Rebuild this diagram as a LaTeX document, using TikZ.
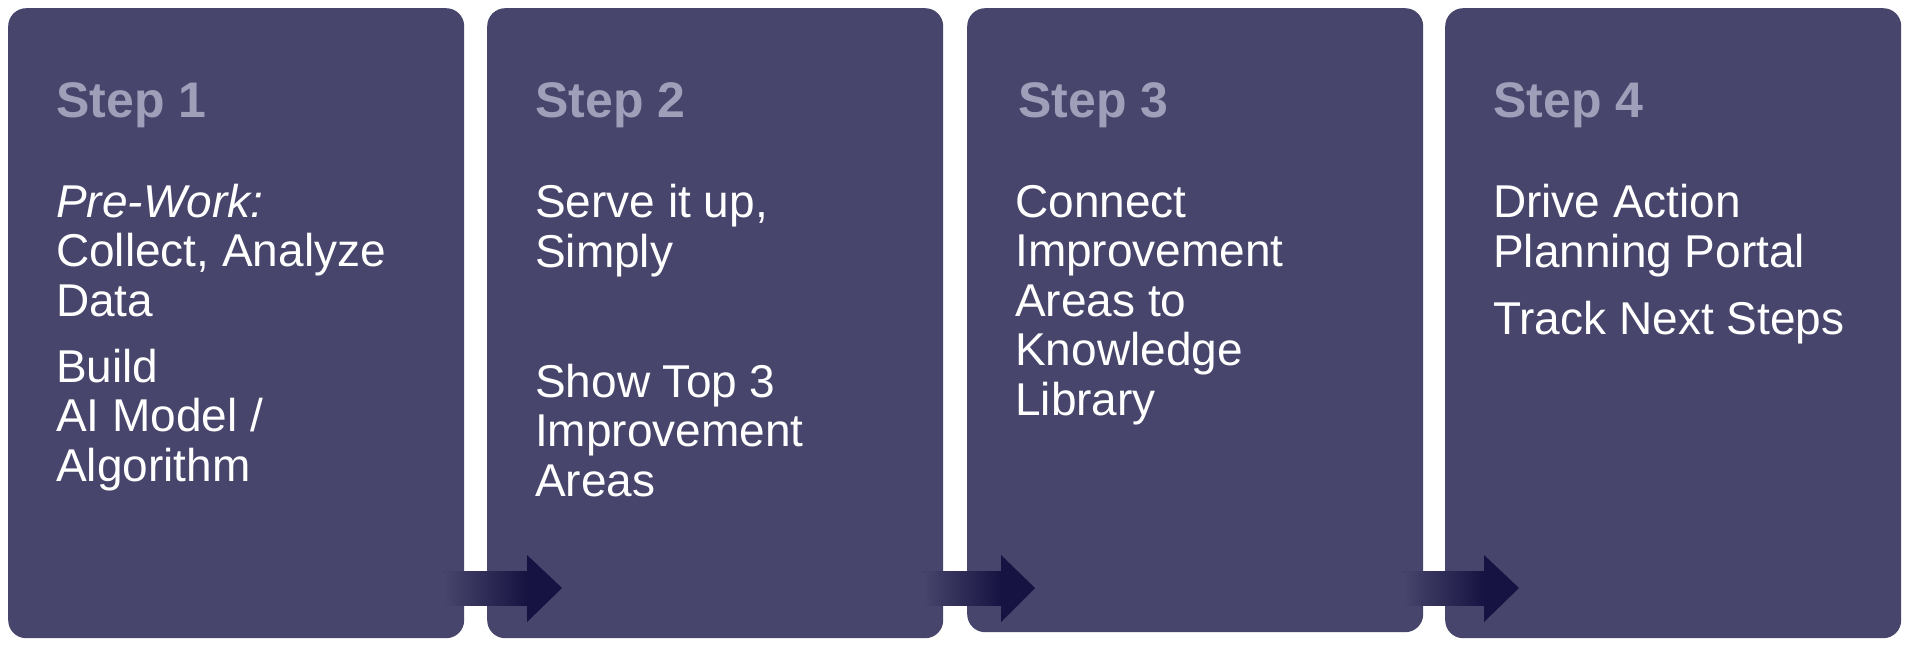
\documentclass[tikz,border=0pt]{standalone}
\usepackage{fontspec}
\setmainfont{Liberation Sans}
\usepackage{tikz}
\usetikzlibrary{calc}
\definecolor{boxfill}{RGB}{71,69,107}
\definecolor{steplabel}{RGB}{160,159,186}
\definecolor{arrowdark}{RGB}{22,19,66}

\begin{document}
\begin{tikzpicture}[x=1pt, y=-1pt,
    stepbox/.style={rectangle, rounded corners=18pt, fill=boxfill, minimum width=456pt, minimum height=630pt, anchor=north west, inner sep=0pt},
    steptitle/.style={anchor=base west, inner sep=0pt, text=steplabel, font=\fontsize{50}{52}\selectfont\bfseries},
    stepbody/.style={anchor=base west, inner sep=0pt, text=white, align=left, font=\fontsize{46}{49.5}\selectfont},
    shaft/.style={left color=boxfill, right color=arrowdark},
    head/.style={fill=arrowdark}
]
\useasboundingbox (0,0) rectangle (1914,650);

% Boxes
\node[stepbox] (b1) at (8, 8) {};
\node[stepbox] (b2) at (487, 8) {};
\node[stepbox, minimum height=624pt] (b3) at (967, 8) {};
\node[stepbox] (b4) at (1445, 8) {};

% Step titles
\node[steptitle] (s1) at (56, 118) {Step 1};
\node[steptitle] (s2) at (535, 118) {Step 2};
\node[steptitle] (s3) at (1018, 118) {Step 3};
\node[steptitle] (s4) at (1493, 118) {Step 4};

% Step texts (placed at the baseline of their last line)
\node[stepbody] (t1a) at (56, 316) {\textit{Pre-Work:}\\Collect, Analyze\\Data};
\node[stepbody] (t1b) at (56, 481) {Build\\AI Model /\\Algorithm};
\node[stepbody] (t2a) at (535, 267) {Serve it up,\\Simply};
\node[stepbody] (t2b) at (535, 496) {Show Top 3\\Improvement\\Areas};
\node[stepbody] (t3a) at (1015, 415) {Connect\\Improvement\\Areas to\\Knowledge\\Library};
\node[stepbody] (t4a) at (1493, 267) {Drive Action\\Planning Portal};
\node[stepbody] (t4b) at (1493, 334) {Track Next Steps};

% Flow arrows
\fill[shaft] ($(b1.north east)+(-20,563)$) rectangle ($(b2.north west)+(40,597)$);
\fill[head] ($(b2.north west)+(40,547)$) -- ($(b2.north west)+(75,580)$) -- ($(b2.north west)+(40,614)$) -- cycle;
\fill[shaft] ($(b2.north east)+(-20,563)$) rectangle ($(b3.north west)+(34,597)$);
\fill[head] ($(b3.north west)+(34,547)$) -- ($(b3.north west)+(68,580)$) -- ($(b3.north west)+(34,614)$) -- cycle;
\fill[shaft] ($(b3.north east)+(-20,563)$) rectangle ($(b4.north west)+(39,597)$);
\fill[head] ($(b4.north west)+(39,547)$) -- ($(b4.north west)+(74,580)$) -- ($(b4.north west)+(39,614)$) -- cycle;

\end{tikzpicture}
\end{document}
